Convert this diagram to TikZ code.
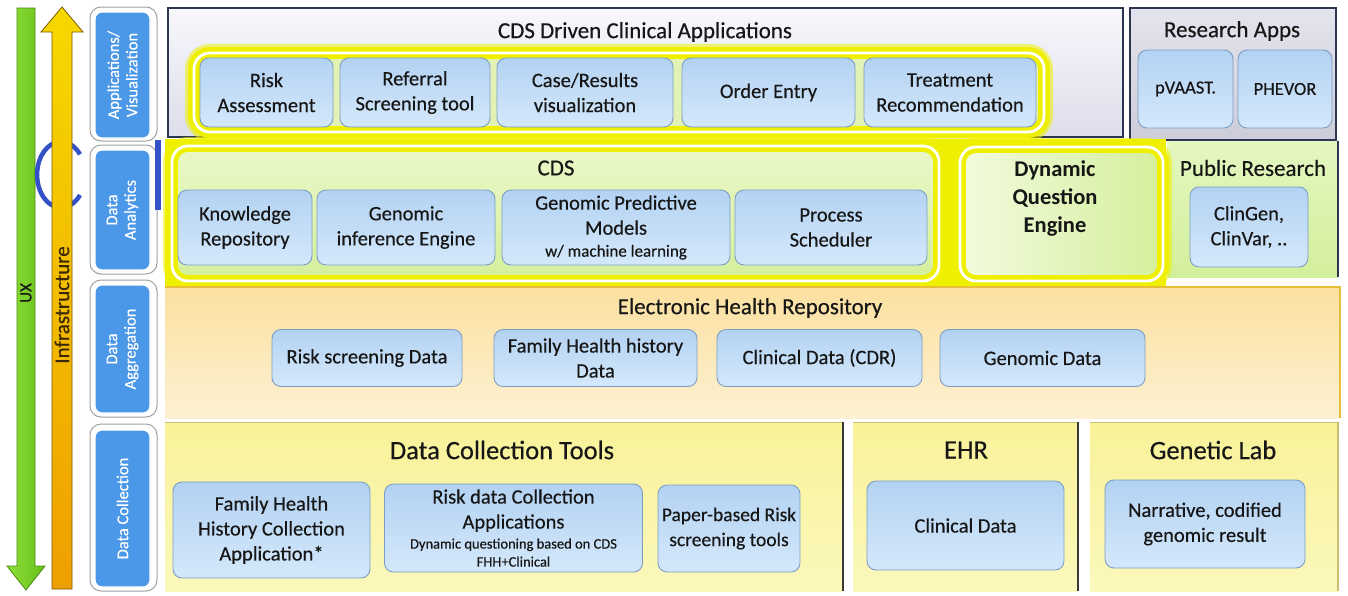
\documentclass[tikz,border=0pt]{standalone}
\usepackage{fontspec}
\setmainfont{Carlito}[UprightFeatures={FakeBold=0.35}]
\newcommand\fsz[2]{\fontsize{#1}{#2}\selectfont}

\definecolor{ink}{HTML}{161616}
\definecolor{navy}{HTML}{2C3650}
\definecolor{sideblue}{HTML}{4B97E8}
\definecolor{framegray}{HTML}{A0A0A0}
\definecolor{uxlight}{HTML}{8EE03A}
\definecolor{uxdark}{HTML}{68BE18}
\definecolor{uxedge}{HTML}{4A8A10}
\definecolor{infratop}{HTML}{F7D800}
\definecolor{infrabot}{HTML}{EE9F00}
\definecolor{infraedge}{HTML}{7A5C00}
\definecolor{infraink}{HTML}{3A2800}
\definecolor{cycblue}{HTML}{3452C8}
\definecolor{appstop}{HTML}{F7F7FC}
\definecolor{appsbot}{HTML}{DEDEEC}
\definecolor{restop}{HTML}{E4E4EE}
\definecolor{resbot}{HTML}{CDCDDA}
\definecolor{glowyel}{HTML}{EEF000}
\definecolor{cdstop}{HTML}{EAF8C8}
\definecolor{cdsbot}{HTML}{D4EF9C}
\definecolor{apptray}{HTML}{E2F1B4}
\definecolor{pubtop}{HTML}{E4F7C0}
\definecolor{pubbot}{HTML}{D2EF9C}
\definecolor{ehrtop}{HTML}{FBE0A0}
\definecolor{ehrbot}{HTML}{FDF1D2}
\definecolor{ehredge}{HTML}{E6BE38}
\definecolor{dctop}{HTML}{F8F298}
\definecolor{dcbot}{HTML}{FBF8BC}
\definecolor{dcedge}{HTML}{C8C070}
\definecolor{btntop}{HTML}{B3D2F2}
\definecolor{btnbot}{HTML}{D4E8FB}
\definecolor{btnedge}{HTML}{7C9EC4}

\begin{document}
\begin{tikzpicture}[x=1pt,y=-1pt,
  btn/.style={draw=btnedge, line width=0.9pt, rounded corners=9pt,
    top color=btntop, bottom color=btnbot, align=center, text=ink,
    font=\fsz{20.5}{25}, inner sep=1pt},
  sidelbl/.style={rotate=90, draw=white, line width=1.2pt, rounded corners=7pt,
    fill=sideblue, text=white, align=center, font=\fsz{16.5}{18.5}, inner sep=0pt},
  sideframe/.style={draw=framegray, line width=1pt, rounded corners=11pt, fill=white},
  panel/.style={inner sep=0pt, outer sep=0pt},
  glowbox/.style={preaction={draw=glowyel, line width=18pt, draw opacity=0.55},
    draw=glowyel, line width=4.5pt, double=white, double distance=2.8pt,
    rounded corners=16pt, inner sep=0pt},
  title/.style={text=ink, font=\fsz{23}{27}},
  bigtitle/.style={text=ink, font=\fsz{26.5}{30}}
]
\useasboundingbox (0,0) rectangle (1348,595);
\fill[white] (0,0) rectangle (1348,595);

% ---------- left axis: UX and Infrastructure ----------
\shade[left color=uxlight, right color=uxdark, draw=uxedge, line width=0.8pt]
  (17,8) -- (35,8) -- (35,566) -- (45,566) -- (26,590) -- (7,566) -- (17,566) -- cycle;
\node[rotate=90, text=ink, font=\fsz{17}{19}] (uxlbl) at (26,293) {UX};

\draw[cycblue, line width=4.5pt] (80,195) arc[start angle=38, end angle=322, x radius=24, y radius=33];

\shade[top color=infratop, bottom color=infrabot, draw=infraedge, line width=0.8pt]
  (62,7) -- (83,32) -- (72,32) -- (72,589) -- (52,589) -- (52,32) -- (41,32) -- cycle;
\node[rotate=90, text=infraink, font=\fsz{21}{23}] (infralbl) at (62,305) {Infrastructure};

% ---------- layer labels ----------
\node[sideframe, minimum width=67pt, minimum height=134pt] (f1) at (123.5,74) {};
\node[sidelbl, minimum width=126pt, minimum height=55pt] (lvis) at (122.5,75) {Applications/\\Visualization};
\node[sideframe, minimum width=67pt, minimum height=129pt] (f2) at (123.5,209.5) {};
\node[sidelbl, minimum width=120pt, minimum height=55pt] (lana) at (122.5,210) {Data\\Analytics};
\node[sideframe, minimum width=67pt, minimum height=137pt] (f3) at (123.5,348.5) {};
\node[sidelbl, minimum width=128pt, minimum height=55pt] (lagg) at (122.5,349) {Data\\Aggregation};
\node[sideframe, minimum width=67pt, minimum height=167pt] (f4) at (123.5,507.5) {};
\node[sidelbl, minimum width=157pt, minimum height=55pt] (lcol) at (122.5,508.5) {Data Collection};

\fill[cycblue] (155,140) rectangle (161,210);

% ---------- applications / visualization layer ----------
\node[panel, draw=navy, line width=1.6pt, top color=appstop, bottom color=appsbot,
  minimum width=955pt, minimum height=129pt] (appspanel) at (645.5,72.5) {};
\node[title] (appstitle) at (645,32) {CDS Driven Clinical Applications};
\node[glowbox, fill=apptray, minimum width=850pt, minimum height=79pt] (appglow) at (619,92.5) {};
\node[btn, minimum width=133pt, minimum height=69pt] (risk) at (266.5,92.5) {Risk\\Assessment};
\node[btn, minimum width=150pt, minimum height=69pt] (referral) at (415,92.5) {Referral\\Screening tool};
\node[btn, minimum width=176pt, minimum height=69pt] (caseres) at (585,92.5) {Case/Results\\visualization};
\node[btn, minimum width=173pt, minimum height=69pt] (order) at (768.5,92.5) {Order Entry};
\node[btn, minimum width=172pt, minimum height=69pt] (treat) at (950,92.5) {Treatment\\Recommendation};

\node[panel, draw=navy, line width=1.6pt, top color=restop, bottom color=resbot,
  minimum width=206pt, minimum height=132pt] (respanel) at (1233,74) {};
\node[title] (restitle) at (1232,31) {Research Apps};
\node[btn, font=\fsz{18.5}{22}, minimum width=95pt, minimum height=78pt] (pvaast) at (1185.5,89) {pVAAST.};
\node[btn, font=\fsz{18.5}{22}, minimum width=94pt, minimum height=78pt] (phevor) at (1285,89) {PHEVOR};

% ---------- data analytics layer ----------
\fill[glowyel] (165,139) rectangle (1166,287);
\node[panel, top color=pubtop, bottom color=pubbot, minimum width=171pt, minimum height=136pt] (pubpanel) at (1252.5,209) {};
\draw[navy, line width=2pt] (pubpanel.north east) -- (pubpanel.south east);
\node[title] (pubtitle) at (1253,168) {Public Research};
\node[btn, minimum width=118pt, minimum height=80pt] (clingen) at (1249,227) {ClinGen,\\ClinVar, ..};

\node[glowbox, top color=cdstop, bottom color=cdsbot, minimum width=767pt, minimum height=135pt] (cdsglow) at (555.5,213.5) {};
\node[title] (cdstitle) at (556,168) {CDS};
\node[btn, minimum width=134pt, minimum height=75pt] (know) at (245,227.5) {Knowledge\\Repository};
\node[btn, minimum width=178pt, minimum height=75pt] (geninf) at (406,227.5) {Genomic\\inference Engine};
\node[btn, minimum width=228pt, minimum height=75pt] (genpred) at (616,227.5)
  {Genomic Predictive\\Models\\[-3pt]{\fsz{17}{19}w/ machine learning}};
\node[btn, minimum width=192pt, minimum height=75pt] (sched) at (831,227.5) {Process\\Scheduler};

\node[glowbox, left color=cdstop!60!white, right color=cdsbot, minimum width=203pt, minimum height=134pt] (dqeglow) at (1061.5,214) {};
\node[text=ink, align=center, font=\bfseries\fsz{22.5}{28}] (dqe) at (1055,199) {Dynamic\\Question\\Engine};

% ---------- data aggregation layer ----------
\node[panel, top color=ehrtop, bottom color=ehrbot, minimum width=1175pt, minimum height=131pt] (ehrrepo) at (752.5,352.5) {};
\draw[ehredge, line width=2pt] (ehrrepo.north west) -- (ehrrepo.north east) -- (ehrrepo.south east);
\node[title] (ehrrepotitle) at (750,308) {Electronic Health Repository};
\node[btn, minimum width=190pt, minimum height=57pt] (riskscr) at (367,358) {Risk screening Data};
\node[btn, minimum width=203pt, minimum height=57pt] (fhhdata) at (595.5,358) {Family Health history\\Data};
\node[btn, minimum width=205pt, minimum height=57pt] (clincdr) at (819.5,358) {Clinical Data (CDR)};
\node[btn, minimum width=205pt, minimum height=57pt] (gendata) at (1042.5,358) {Genomic Data};

% ---------- data collection layer ----------
\node[panel, top color=dctop, bottom color=dcbot, minimum width=678pt, minimum height=169pt] (dctools) at (504,506.5) {};
\draw[dcedge, line width=1pt] (dctools.north west) -- (dctools.north east);
\draw[ink!85, line width=1.6pt] (dctools.north east) -- (dctools.south east);
\node[bigtitle] (dctitle) at (502,450) {Data Collection Tools};
\node[btn, minimum width=197pt, minimum height=96pt] (fhhapp) at (271.5,530) {Family Health\\History Collection\\Application*};
\node[btn, minimum width=258pt, minimum height=88pt] (riskapp) at (513.5,528)
  {Risk data Collection\\Applications\\[-5pt]{\fsz{14.5}{17}Dynamic questioning based on CDS}\\[-7pt]{\fsz{14.5}{17}FHH+Clinical}};
\node[btn, font=\fsz{19.5}{25}, minimum width=142pt, minimum height=87pt] (paper) at (729,528.5) {Paper-based Risk\\screening tools};

\node[panel, top color=dctop, bottom color=dcbot, minimum width=225pt, minimum height=169pt] (ehr) at (965.5,506.5) {};
\draw[dcedge, line width=1pt] (ehr.north west) -- (ehr.north east);
\draw[ink!85, line width=1.6pt] (ehr.north east) -- (ehr.south east);
\node[bigtitle] (ehrtitle) at (966,450) {EHR};
\node[btn, minimum width=197pt, minimum height=89pt] (clindata) at (965.5,525.5) {Clinical Data};

\node[panel, top color=dctop, bottom color=dcbot, minimum width=248pt, minimum height=169pt] (genlab) at (1214,506.5) {};
\draw[dcedge, line width=1pt] (genlab.north west) -- (genlab.north east);
\draw[dcedge, line width=2.5pt] (genlab.north east) -- (genlab.south east);
\node[bigtitle] (genlabtitle) at (1213,450) {Genetic Lab};
\node[btn, minimum width=200pt, minimum height=88pt] (narr) at (1205,524) {Narrative, codified\\genomic result};
\end{tikzpicture}
\end{document}
